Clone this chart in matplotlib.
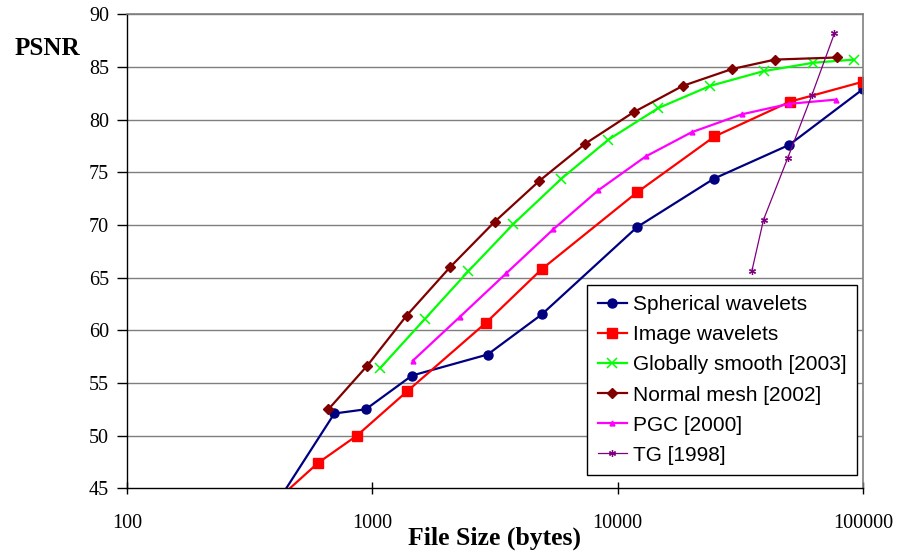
import matplotlib
import matplotlib.pyplot as plt

matplotlib.use("Agg")

# values (file size in bytes, PSNR)
sph_size = [400, 700, 940, 1450, 2950, 4900, 12000, 24700, 50000, 100000]
sph_psnr = [43.3, 52.1, 52.5, 55.7, 57.7, 61.5, 69.8, 74.4, 77.6, 82.9]

img_size = [400, 600, 865, 1385, 2900, 4900, 12000, 24800, 50300, 100000]
img_psnr = [43.7, 47.4, 50.0, 54.2, 60.7, 65.8, 73.1, 78.4, 81.7, 83.6]

glob_size = [1075, 1640, 2460, 3760, 5900, 9170, 14650, 23800, 39300, 62800, 92000]
glob_psnr = [56.4, 61.1, 65.6, 70.1, 74.4, 78.1, 81.1, 83.2, 84.6, 85.4, 85.7]

norm_size = [662, 950, 1380, 2075, 3150, 4800, 7360, 11600, 18400, 29200, 43800, 78200]
norm_psnr = [52.5, 56.6, 61.4, 66.0, 70.3, 74.2, 77.7, 80.7, 83.2, 84.8, 85.7, 85.9]

pgc_size = [1460, 2280, 3510, 5470, 8340, 13000, 20000, 32000, 50000, 77500]
pgc_psnr = [57.1, 61.3, 65.4, 69.6, 73.3, 76.5, 78.8, 80.5, 81.5, 81.9]

tg_size = [35200, 39300, 49400, 61800, 76500]
tg_psnr = [65.6, 70.5, 76.4, 82.3, 88.2]

x_ticks = [100, 1000, 10000, 100000]
y_ticks = [45, 50, 55, 60, 65, 70, 75, 80, 85, 90]

SERIF = "Liberation Serif"
SANS = "Liberation Sans"


def main() -> None:
    fig = plt.figure(figsize=(8.99, 5.56), dpi=100)
    ax = fig.add_axes([0.1413, 0.1218, 0.8187, 0.8525])

    ax.plot(sph_size, sph_psnr, color="#000080", lw=1.6, marker="o", ms=6.5,
            label="Spherical wavelets")
    ax.plot(img_size, img_psnr, color="#FF0000", lw=1.6, marker="s", ms=7,
            label="Image wavelets")
    ax.plot(glob_size, glob_psnr, color="#00FF00", lw=1.6, marker="x", ms=7,
            mew=1.1, label="Globally smooth [2003]")
    ax.plot(norm_size, norm_psnr, color="#800000", lw=1.6, marker="D", ms=5.5,
            label="Normal mesh [2002]")
    ax.plot(pgc_size, pgc_psnr, color="#FF00FF", lw=1.6, marker="^", ms=3.5,
            label="PGC [2000]")
    ax.plot(tg_size, tg_psnr, color="#800080", lw=0.9, marker=(6, 2, 0), ms=5,
            mew=0.9, label="TG [1998]")

    ax.set_xscale("log")
    ax.set_xlim(100, 100000)
    ax.set_ylim(45, 90)
    ax.set_xticks(x_ticks)
    ax.set_xticklabels([str(v) for v in x_ticks])
    ax.xaxis.set_minor_locator(matplotlib.ticker.NullLocator())
    ax.set_yticks(y_ticks)

    for y in y_ticks[1:]:
        ax.axhline(y, color="#7f7f7f", lw=1.0, zorder=0.5)

    ax.tick_params(axis="x", direction="inout", length=9, width=1,
                   labelsize=14.5, pad=14)
    ax.tick_params(axis="y", direction="out", length=7, width=1,
                   labelsize=14.5, pad=6)
    for lbl in ax.get_xticklabels() + ax.get_yticklabels():
        lbl.set_fontfamily(SERIF)

    for side in ("left", "bottom"):
        ax.spines[side].set_color("black")
        ax.spines[side].set_linewidth(1.0)
    for side in ("top", "right"):
        ax.spines[side].set_color("#7f7f7f")
        ax.spines[side].set_linewidth(1.2)

    fig.text(0.0522, 0.913, "PSNR", family=SERIF, weight="bold", fontsize=18,
             ha="center", va="center")
    fig.text(0.55, 0.032, "File Size (bytes)", family=SERIF, weight="bold",
             fontsize=18.5, ha="center", va="center")

    leg = ax.legend(loc="lower right", bbox_to_anchor=(0.9918, 0.028),
                    prop={"family": SANS, "size": 15}, frameon=True,
                    fancybox=False, edgecolor="black", framealpha=1,
                    borderpad=0.5, labelspacing=0.53, handlelength=1.4,
                    handletextpad=0.3, borderaxespad=0)
    leg.get_frame().set_linewidth(1.0)

    fig.savefig("out.png", dpi=100)
    plt.close(fig)


if __name__ == "__main__":
    main()
